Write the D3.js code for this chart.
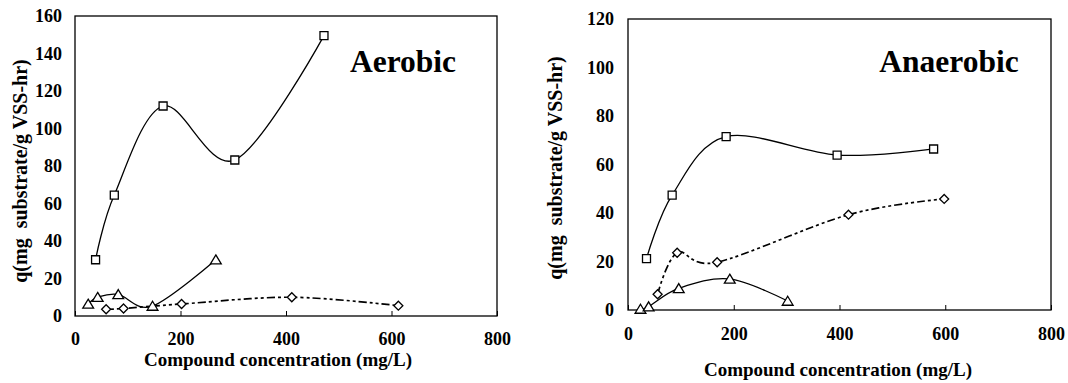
<!DOCTYPE html>
<html>
<head>
<meta charset="utf-8">
<script src="https://cdn.jsdelivr.net/npm/d3@7"></script>
<style>
html,body{margin:0;padding:0;background:#fff;}
svg{display:block;}
text{font-family:"Liberation Serif","Times New Roman",serif;font-weight:bold;fill:#000;}
</style>
</head>
<body>
<svg id="chart" width="1068" height="383"></svg>
<script>
// ---- Data ----
const xTicks = [0, 200, 400, 600, 800];
const aeroYTicks = [0, 20, 40, 60, 80, 100, 120, 140, 160];
const anaeroYTicks = [0, 20, 40, 60, 80, 100, 120];

const aeroSquaresX = [39, 74.5, 167, 303, 472];
const aeroSquaresY = [30, 64.5, 112, 83.2, 149.5];
const aeroTrianglesX = [25, 43, 82, 147, 267];
const aeroTrianglesY = [6.4, 10, 11.5, 5.3, 30];
const aeroDiamondsX = [59, 92, 202, 411, 613];
const aeroDiamondsY = [3.6, 4, 6.4, 10, 5.5];

const anaSquaresX = [35, 83.5, 185.6, 395.5, 578];
const anaSquaresY = [21.2, 47.4, 71.5, 63.9, 66.4];
const anaTrianglesX = [23.6, 39, 96, 192.5, 302];
const anaTrianglesY = [0.4, 1.4, 8.9, 12.8, 3.7];
const anaDiamondsX = [56, 93, 168.6, 417, 598];
const anaDiamondsY = [6.5, 23.6, 19.7, 39.3, 45.8];

const yTitle = "q(mg  substrate/g VSS-hr)";
const xTitle = "Compound concentration (mg/L)";

const zip = (xs, ys) => xs.map((x, i) => [x, ys[i]]);

const svg = d3.select("#chart");
const FONT = '"Liberation Serif","Times New Roman",serif';

const panels = [
  {
    box: {l: 75, r: 497, t: 16, b: 316}, yMax: 160, yTicks: aeroYTicks,
    title: "Aerobic", titleX: 403, titleY: 72,
    xTitleX: 278, xTitleY: 366, xTickDy: 29,
    yTitleX: 27, yTitleY: 171, yPad: 13,
    series: [
      {pts: zip(aeroSquaresX, aeroSquaresY), marker: "square", dash: null},
      {pts: zip(aeroTrianglesX, aeroTrianglesY), marker: "triangle", dash: null},
      {pts: zip(aeroDiamondsX, aeroDiamondsY), marker: "diamond", dash: "8,3,3,3,3,3"}
    ]
  },
  {
    box: {l: 628, r: 1051, t: 19, b: 310}, yMax: 120, yTicks: anaeroYTicks,
    title: "Anaerobic", titleX: 949, titleY: 72,
    xTitleX: 838, xTitleY: 376, xTickDy: 30,
    yTitleX: 562, yTitleY: 168, yPad: 14,
    series: [
      {pts: zip(anaSquaresX, anaSquaresY), marker: "square", dash: null},
      {pts: zip(anaTrianglesX, anaTrianglesY), marker: "triangle", dash: null},
      {pts: zip(anaDiamondsX, anaDiamondsY), marker: "diamond", dash: "8,3,3,3,3,3"}
    ]
  }
];

function markerPath(type) {
  if (type === "square") return "M-4,-4H4V4H-4Z";
  if (type === "diamond") return "M0,-4.5L4.5,0L0,4.5L-4.5,0Z";
  return "M0,-4.8L5.4,4.2H-5.4Z";
}

panels.forEach(p => {
  const x = d3.scaleLinear().domain([0, 800]).range([p.box.l, p.box.r]);
  const y = d3.scaleLinear().domain([0, p.yMax]).range([p.box.b, p.box.t]);
  const g = svg.append("g");

  g.append("rect")
    .attr("x", p.box.l).attr("y", p.box.t)
    .attr("width", p.box.r - p.box.l).attr("height", p.box.b - p.box.t)
    .attr("fill", "none").attr("stroke", "#000").attr("stroke-width", 1.3);

  const xAxis = d3.axisBottom(x).tickValues(xTicks).tickSize(-5).tickPadding(0).tickFormat(d3.format("d"));
  const xa = g.append("g").attr("transform", `translate(0,${p.box.b})`).call(xAxis)
    .attr("font-family", FONT).attr("font-size", 18).attr("font-weight", "bold");
  xa.select(".domain").remove();
  xa.selectAll(".tick line").attr("stroke", "#000").attr("stroke-width", 1);
  xa.selectAll(".tick text").attr("y", p.xTickDy).attr("dy", null)
    .style("font-family", FONT).style("font-size", "18px");

  const yAxis = d3.axisLeft(y).tickValues(p.yTicks).tickSize(0).tickPadding(p.yPad).tickFormat(d3.format("d"));
  const ya = g.append("g").attr("transform", `translate(${p.box.l},0)`).call(yAxis)
    .attr("font-family", FONT).attr("font-size", 18).attr("font-weight", "bold");
  ya.select(".domain").remove();
  ya.selectAll(".tick line").remove();
  ya.selectAll(".tick text").attr("dy", "0.33em")
    .style("font-family", FONT).style("font-size", "18px");

  g.append("text").attr("x", p.titleX).attr("y", p.titleY)
    .attr("text-anchor", "middle").style("font-size", "31.5px").text(p.title);
  g.append("text").attr("x", p.xTitleX).attr("y", p.xTitleY)
    .attr("text-anchor", "middle").style("font-size", "19px").text(xTitle);
  g.append("text")
    .attr("transform", `translate(${p.yTitleX},${p.yTitleY}) rotate(-90)`)
    .attr("text-anchor", "middle").style("font-size", "20px")
    .style("white-space", "pre").attr("xml:space", "preserve").text(yTitle);

  const line = d3.line().x(d => x(d[0])).y(d => y(d[1])).curve(d3.curveCardinal.tension(0));

  p.series.forEach(s => {
    g.append("path").attr("d", line(s.pts))
      .attr("fill", "none").attr("stroke", "#000")
      .attr("stroke-width", s.dash ? 1.7 : 1.3)
      .attr("stroke-dasharray", s.dash);
  });
  p.series.forEach(s => {
    g.selectAll(null).data(s.pts).enter().append("path")
      .attr("d", markerPath(s.marker))
      .attr("transform", d => `translate(${x(d[0])},${y(d[1])})`)
      .attr("fill", "#fff").attr("stroke", "#000").attr("stroke-width", 1.3);
  });
});
</script>
</body>
</html>
